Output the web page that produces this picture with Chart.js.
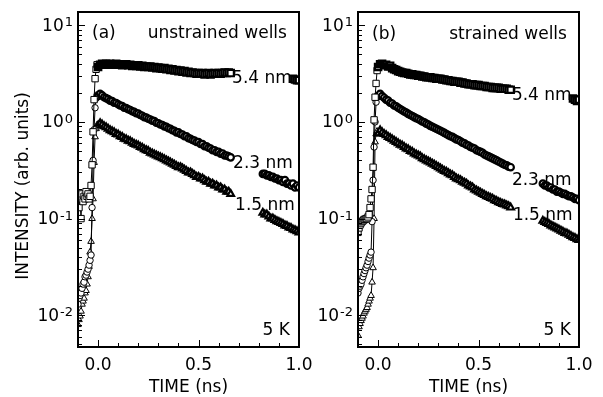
<!DOCTYPE html>
<html>
<head>
<meta charset="utf-8">
<script src="https://cdn.jsdelivr.net/npm/chart.js@4.4.1/dist/chart.umd.min.js"></script>
<style>
  body { margin: 0; background: #fff; }
  .panel { position: absolute; top: 0; height: 397px; }
</style>
</head>
<body>
<div class="panel" style="left:0;width:320px"><canvas id="chartA" width="320" height="397"></canvas></div>
<div class="panel" style="left:300px;width:303px"><canvas id="chartB" width="303" height="397"></canvas></div>
<script>
// time axes (ns)
const tRise = [-0.100,-0.095,-0.090,-0.085,-0.080,-0.075,-0.070,-0.065,-0.060,-0.055,
               -0.050,-0.045,-0.040,-0.035,-0.030,-0.025,-0.020,-0.015,-0.010,-0.005];
const tDecay = [0.00,0.01,0.02,0.03,0.04,0.05,0.06,0.07,0.08,0.09,
                0.10,0.11,0.12,0.13,0.14,0.15,0.16,0.17,0.18,0.19,
                0.20,0.21,0.22,0.23,0.24,0.25,0.26,0.27,0.28,0.29,
                0.30,0.31,0.32,0.33,0.34,0.35,0.36,0.37,0.38,0.39,
                0.40,0.41,0.42,0.43,0.44,0.45,0.46,0.47,0.48,0.49,
                0.50,0.51,0.52,0.53,0.54,0.55,0.56,0.57,0.58,0.59,
                0.60,0.61,0.62,0.63,0.64,0.65,0.66];
const tTail = [0.82,0.83,0.84,0.85,0.86,0.87,0.88,0.89,0.90,0.91,
               0.92,0.93,0.94,0.95,0.96,0.97,0.98,0.99,1.00];
const tEnd = [0.97,0.98,0.99,1.00];

// (a) unstrained wells
const a54Rise = [0.17,0.13,0.16,0.10,0.18,0.15,0.17,0.16,0.19,0.17,0.18,0.16,0.17,0.22,0.36,0.79,1.7,2.8,3.5,3.9];
const a54Decay = [3.7,3.9,4.0,3.95,4.0,3.9,4.0,3.95,3.9,4.0,
                  3.9,3.95,3.85,3.9,3.95,3.85,3.9,3.8,3.85,3.8,
                  3.85,3.75,3.8,3.7,3.75,3.7,3.75,3.65,3.7,3.6,
                  3.65,3.6,3.55,3.6,3.5,3.55,3.45,3.5,3.4,3.45,
                  3.35,3.4,3.3,3.35,3.25,3.3,3.2,3.25,3.2,3.15,
                  3.2,3.15,3.2,3.1,3.15,3.2,3.1,3.15,3.2,3.15,
                  3.2,3.15,3.2,3.25,3.2,3.25,3.2];
const a54End = [2.8,2.75,2.7,2.7];

const a23Rise = [0.013,0.015,0.016,0.017,0.019,0.021,0.022,0.025,0.026,0.028,0.030,0.033,0.037,0.042,0.13,0.40,0.83,1.40,1.75,1.90];
const a23Decay = [1.85,1.95,1.88,1.80,1.76,1.72,1.66,1.64,1.58,1.57,
                  1.52,1.48,1.46,1.40,1.39,1.35,1.33,1.29,1.27,1.23,
                  1.22,1.18,1.16,1.12,1.11,1.08,1.06,1.03,1.02,0.98,
                  0.97,0.94,0.93,0.90,0.89,0.86,0.85,0.82,0.81,0.78,
                  0.78,0.75,0.74,0.71,0.71,0.68,0.67,0.65,0.64,0.62,
                  0.62,0.59,0.59,0.56,0.56,0.54,0.53,0.51,0.51,0.49,
                  0.49,0.47,0.47,0.45,0.45,0.44,0.43];
const a23Tail = [0.29,0.29,0.28,0.28,0.27,0.27,0.26,0.26,0.25,0.25,0.24,0.25,0.23,0.23,0.22,0.23,0.21,0.22,0.21];

const a15Rise = [0.0080,0.0090,0.0098,0.011,0.013,0.014,0.015,0.017,0.018,0.021,0.025,0.032,0.045,0.058,0.10,0.16,0.38,0.70,0.85,0.93];
const a15Decay = [0.92,0.97,0.94,0.90,0.88,0.85,0.82,0.80,0.78,0.75,
                  0.74,0.71,0.70,0.67,0.66,0.64,0.63,0.61,0.59,0.58,
                  0.57,0.55,0.54,0.52,0.51,0.50,0.48,0.47,0.46,0.45,
                  0.44,0.43,0.42,0.41,0.40,0.39,0.38,0.37,0.36,0.35,
                  0.34,0.34,0.33,0.32,0.31,0.30,0.30,0.29,0.28,0.27,
                  0.27,0.26,0.26,0.25,0.24,0.24,0.23,0.23,0.22,0.22,
                  0.21,0.21,0.20,0.20,0.19,0.19,0.18];
const a15Tail = [0.115,0.11,0.11,0.105,0.10,0.10,0.097,0.094,0.092,0.090,0.088,0.085,0.084,0.081,0.080,0.077,0.076,0.074,0.072];

// (b) strained wells
const b54Rise = [0.072,0.080,0.086,0.090,0.093,0.095,0.098,0.098,0.10,0.10,0.104,0.11,0.13,0.16,0.20,0.34,1.05,1.8,2.5,3.4];
const b54Decay = [3.7,3.95,4.0,3.85,3.9,3.75,3.8,3.6,3.5,3.45,
                  3.35,3.3,3.25,3.2,3.2,3.15,3.1,3.1,3.05,3.05,
                  3.0,3.0,2.95,2.95,2.9,2.9,2.9,2.85,2.85,2.8,
                  2.8,2.8,2.75,2.75,2.7,2.7,2.65,2.65,2.6,2.6,
                  2.6,2.55,2.55,2.5,2.5,2.45,2.45,2.45,2.4,2.4,
                  2.4,2.35,2.35,2.35,2.3,2.3,2.3,2.25,2.25,2.25,
                  2.25,2.2,2.2,2.2,2.2,2.15,2.15];
const b54End = [1.75,1.7,1.65,1.7];

const b23Rise = [0.017,0.019,0.020,0.021,0.023,0.025,0.027,0.029,0.031,0.033,0.036,0.039,0.042,0.045,0.093,0.25,0.55,1.0,1.6,1.85];
const b23Decay = [1.85,1.95,1.85,1.78,1.70,1.66,1.58,1.55,1.48,1.45,
                  1.40,1.36,1.32,1.28,1.25,1.21,1.18,1.15,1.12,1.09,
                  1.07,1.04,1.01,0.99,0.96,0.94,0.91,0.89,0.87,0.85,
                  0.83,0.81,0.79,0.77,0.75,0.73,0.71,0.70,0.68,0.66,
                  0.65,0.63,0.61,0.60,0.58,0.57,0.55,0.54,0.53,0.51,
                  0.50,0.49,0.48,0.46,0.45,0.44,0.43,0.42,0.41,0.40,
                  0.39,0.38,0.37,0.36,0.355,0.345,0.34];
const b23Tail = [0.23,0.22,0.22,0.21,0.21,0.20,0.20,0.19,0.19,0.185,0.18,0.18,0.175,0.17,0.17,0.165,0.16,0.16,0.155];

const b15Rise = [0.0062,0.0076,0.0082,0.0088,0.0093,0.0098,0.0105,0.011,0.0115,0.012,0.013,0.014,0.015,0.016,0.022,0.031,0.10,0.62,0.75,0.80];
const b15Decay = [0.76,0.82,0.78,0.75,0.73,0.70,0.68,0.66,0.64,0.62,
                  0.60,0.58,0.57,0.55,0.53,0.52,0.50,0.49,0.47,0.46,
                  0.45,0.44,0.42,0.41,0.40,0.39,0.38,0.37,0.36,0.35,
                  0.34,0.33,0.32,0.31,0.305,0.295,0.285,0.28,0.27,0.26,
                  0.255,0.25,0.24,0.235,0.23,0.22,0.215,0.21,0.20,0.195,
                  0.19,0.185,0.18,0.175,0.17,0.167,0.163,0.16,0.155,0.152,
                  0.148,0.145,0.142,0.14,0.137,0.134,0.13];
const b15Tail = [0.095,0.092,0.09,0.088,0.085,0.083,0.081,0.079,0.077,0.075,0.073,0.071,0.07,0.068,0.066,0.064,0.063,0.061,0.06];

// axis ticks
const xTickValues = [0.0, 0.5, 1.0];
const xTickLabels = ['0.0', '0.5', '1.0'];
const yDecades = [-3, -2, -1, 0, 1];
const yLabelExps = ['-2', '-1', '0', '1'];

const FONT = '"DejaVu Sans"';
Chart.defaults.font.family = FONT;
Chart.defaults.font.size = 17;
Chart.defaults.color = '#000';

function pts(riseV, decayV, tailT, tailV) {
  const out = [];
  tRise.forEach((t, i) => out.push({x: t, y: riseV[i]}));
  tDecay.forEach((t, i) => out.push({x: t, y: decayV[i]}));
  out.push({x: (tDecay[tDecay.length - 1] + tailT[0]) / 2, y: null});
  tailT.forEach((t, i) => out.push({x: t, y: tailV[i]}));
  return out;
}

function ds(data, style, r) {
  return {
    data: data,
    borderColor: '#000',
    borderWidth: 1,
    pointStyle: style,
    pointRadius: r,
    // dense part of the trace reads almost solid black
    pointBorderWidth: c => (c.raw && c.raw.x >= 0 ? 2.2 : 1),
    pointBorderColor: '#000',
    pointBackgroundColor: '#fff',
    tension: 0,
    spanGaps: false
  };
}

const yMin = 0.0047, yMax = 13.7;
const yTickList = [];
yDecades.forEach(d => {
  for (let m = 1; m <= 9; m++) {
    const v = m * Math.pow(10, d);
    if (v >= yMin && v <= yMax) yTickList.push(v);
  }
});

function isDecade(v) {
  const e = Math.log10(v);
  return Math.abs(e - Math.round(e)) < 1e-6;
}

const panelPlugin = {
  id: 'panel',
  afterDatasetsDraw(chart, args, opts) {
    const {ctx, chartArea: a, scales: {x, y}} = chart;
    ctx.save();
    ctx.strokeStyle = '#000';
    ctx.fillStyle = '#000';
    ctx.lineWidth = 1;
    // inward ticks on the left axis
    y.ticks.forEach(t => {
      const py = Math.round(y.getPixelForValue(t.value)) + 0.5;
      const len = isDecade(t.value) ? 7 : 4;
      ctx.beginPath(); ctx.moveTo(a.left, py); ctx.lineTo(a.left + len, py); ctx.stroke();
    });
    // inward ticks on the bottom axis
    x.ticks.forEach(t => {
      const px = Math.round(x.getPixelForValue(t.value)) + 0.5;
      const major = xTickValues.some(v => Math.abs(v - t.value) < 1e-6);
      const len = major ? 7 : 4;
      ctx.beginPath(); ctx.moveTo(px, a.bottom); ctx.lineTo(px, a.bottom - len); ctx.stroke();
    });
    // frame
    ctx.lineWidth = 2;
    ctx.strokeRect(a.left, a.top, a.right - a.left, a.bottom - a.top);

    // y labels 10^n
    yLabelExps.forEach(e => {
      const py = y.getPixelForValue(Math.pow(10, Number(e)));
      ctx.font = '13px ' + FONT;
      ctx.textAlign = 'right';
      ctx.textBaseline = 'alphabetic';
      const ex = a.left - 5;
      ctx.fillText(e, ex, py + 1);
      const ew = ctx.measureText(e).width;
      ctx.font = '17px ' + FONT;
      ctx.textBaseline = 'middle';
      ctx.fillText('10', ex - ew - 1, py + 1);
    });

    // in-plot texts
    ctx.font = '17px ' + FONT;
    ctx.textBaseline = 'alphabetic';
    opts.notes.forEach(n => {
      ctx.textAlign = n.align;
      ctx.fillText(n.text, x.getPixelForValue(n.x), y.getPixelForValue(n.y));
    });

    if (opts.yTitle) {
      ctx.translate(opts.yTitle.x, opts.yTitle.y);
      ctx.rotate(-Math.PI / 2);
      ctx.textAlign = 'center';
      ctx.textBaseline = 'middle';
      ctx.fillText(opts.yTitle.text, 0, 0);
    }
    ctx.restore();
  }
};

function makeChart(id, datasets, yWidth, padRight, notes, yTitle) {
  return new Chart(document.getElementById(id), {
    type: 'line',
    data: {datasets: datasets},
    options: {
      responsive: false,
      animation: false,
      layout: {padding: {top: 12, right: padRight, left: 0, bottom: 0}},
      plugins: {legend: {display: false}, tooltip: {enabled: false},
                panel: {notes: notes, yTitle: yTitle}},
      scales: {
        x: {
          type: 'linear', min: -0.1, max: 1.0,
          grid: {display: false}, border: {display: false},
          ticks: {
            stepSize: 0.1, autoSkip: false, maxRotation: 0, padding: 0,
            callback: v => {
              const i = xTickValues.findIndex(t => Math.abs(t - v) < 1e-6);
              return i >= 0 ? xTickLabels[i] : '';
            }
          },
          title: {display: true, text: 'TIME (ns)', padding: {top: 0, bottom: -1}},
          afterFit: s => { s.height = 50; }
        },
        y: {
          type: 'logarithmic', min: yMin, max: yMax,
          grid: {display: false}, border: {display: false},
          ticks: {display: false},
          afterBuildTicks: s => { s.ticks = yTickList.map(v => ({value: v})); },
          afterFit: s => { s.width = yWidth; }
        }
      }
    },
    plugins: [panelPlugin]
  });
}

makeChart('chartA', [
  ds(pts(a54Rise, a54Decay, tEnd, a54End), 'rect', 4.5),
  ds(pts(a23Rise, a23Decay, tTail, a23Tail), 'circle', 3.2),
  ds(pts(a15Rise, a15Decay, tTail, a15Tail), 'triangle', 3.8)
], 78, 21, [
  {text: '(a)', x: -0.03, y: 7.3, align: 'left'},
  {text: 'unstrained wells', x: 0.94, y: 7.3, align: 'right'},
  {text: '5.4 nm', x: 0.667, y: 2.53, align: 'left'},
  {text: '2.3 nm', x: 0.672, y: 0.335, align: 'left'},
  {text: '1.5 nm', x: 0.682, y: 0.123, align: 'left'},
  {text: '5 K', x: 0.955, y: 0.0062, align: 'right'}
], {text: 'INTENSITY (arb. units)', x: 24, y: 186});

makeChart('chartB', [
  ds(pts(b54Rise, b54Decay, tEnd, b54End), 'rect', 4.5),
  ds(pts(b23Rise, b23Decay, tTail, b23Tail), 'circle', 3.2),
  ds(pts(b15Rise, b15Decay, tTail, b15Tail), 'triangle', 3.8)
], 58, 24, [
  {text: '(b)', x: -0.03, y: 7.2, align: 'left'},
  {text: 'strained wells', x: 0.94, y: 7.2, align: 'right'},
  {text: '5.4 nm', x: 0.666, y: 1.70, align: 'left'},
  {text: '2.3 nm', x: 0.666, y: 0.2235, align: 'left'},
  {text: '1.5 nm', x: 0.671, y: 0.097, align: 'left'},
  {text: '5 K', x: 0.96, y: 0.0062, align: 'right'}
], null);
</script>
</body>
</html>
